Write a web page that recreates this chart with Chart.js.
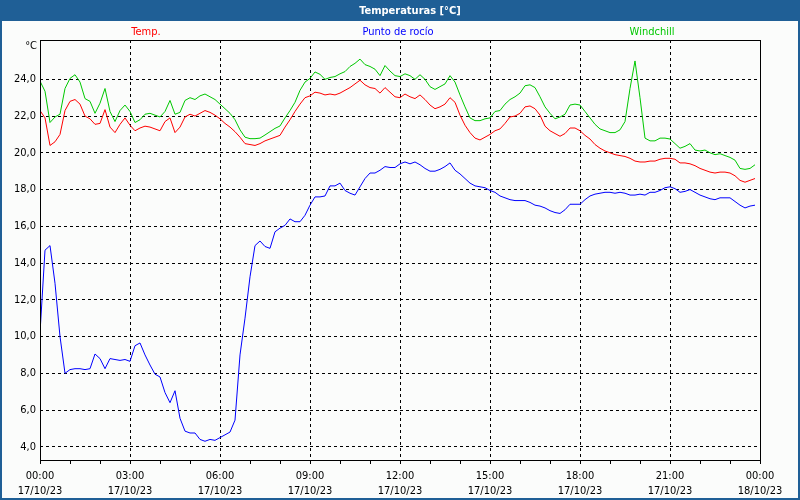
<!DOCTYPE html>
<html lang="es">
<head>
<meta charset="utf-8">
<title>Temperaturas</title>
<script src="https://cdn.jsdelivr.net/npm/chart.js@4/dist/chart.umd.min.js"></script>
<style>
    html, body { margin: 0; padding: 0; background: #fbfcfb; }
    #contenedor { width: 800px; height: 500px; }
</style>
</head>
<body>
<div id="contenedor"><canvas id="graficoTemp" width="800" height="500"></canvas></div>
<script>
// Lecturas cada 10 minutos, del 17/10/23 00:00 al 23:50
const minutosEntreLecturas = 10;

const temp = [
    22.3, 21.9, 20.4, 20.6, 21.0, 22.3, 22.8, 22.9, 22.65, 22.0, 21.85, 21.55, 21.6, 22.35, 21.4, 21.1, 21.55, 21.9,
    21.5, 21.2, 21.35, 21.45, 21.4, 21.3, 21.2, 21.7, 21.9, 21.1, 21.4, 21.95, 22.1, 22.0, 22.15, 22.3, 22.2, 22.05,
    21.85, 21.6, 21.4, 21.15, 20.85, 20.5, 20.45, 20.4, 20.5, 20.65, 20.75, 20.85, 20.95, 21.4, 21.8, 22.25, 22.65, 23.0,
    23.1, 23.3, 23.25, 23.15, 23.2, 23.15, 23.25, 23.4, 23.55, 23.75, 23.95, 23.7, 23.55, 23.5, 23.25, 23.55, 23.3, 23.05,
    23.0, 23.2, 23.05, 22.95, 23.15, 22.9, 22.6, 22.4, 22.5, 22.65, 23.0, 22.75, 22.05, 21.5, 21.1, 20.8, 20.7, 20.85,
    21.0, 21.2, 21.3, 21.6, 21.95, 22.0, 22.15, 22.5, 22.55, 22.4, 22.05, 21.45, 21.2, 21.05, 20.9, 21.05, 21.35, 21.35,
    21.2, 20.95, 20.75, 20.45, 20.25, 20.1, 20.0, 19.9, 19.85, 19.8, 19.7, 19.55, 19.5, 19.5, 19.55, 19.55, 19.65, 19.7,
    19.7, 19.65, 19.45, 19.45, 19.4, 19.3, 19.15, 19.05, 18.95, 18.9, 18.95, 18.95, 18.9, 18.75, 18.5, 18.4, 18.5, 18.6
];

const puntoRocio = [
    10.2, 14.7, 14.95, 12.9, 10.0, 8.0, 8.2, 8.25, 8.25, 8.2, 8.25, 9.05, 8.8, 8.25, 8.8, 8.75, 8.7, 8.75,
    8.65, 9.5, 9.65, 9.0, 8.45, 7.95, 7.8, 6.95, 6.4, 7.05, 5.55, 4.85, 4.75, 4.75, 4.4, 4.3, 4.4, 4.35,
    4.5, 4.65, 4.8, 5.45, 9.0, 11.0, 13.25, 14.95, 15.2, 14.9, 14.8, 15.7, 15.9, 16.05, 16.4, 16.25, 16.25, 16.6,
    17.15, 17.6, 17.6, 17.65, 18.2, 18.2, 18.35, 17.95, 17.8, 17.7, 18.15, 18.6, 18.9, 18.9, 19.05, 19.25, 19.2, 19.2,
    19.4, 19.5, 19.4, 19.5, 19.35, 19.15, 19.0, 19.0, 19.1, 19.25, 19.45, 19.05, 18.85, 18.6, 18.35, 18.2, 18.15, 18.1,
    17.95, 17.85, 17.65, 17.55, 17.45, 17.4, 17.4, 17.4, 17.3, 17.15, 17.1, 17.0, 16.85, 16.75, 16.7, 16.9, 17.2, 17.2,
    17.2, 17.45, 17.65, 17.75, 17.8, 17.85, 17.85, 17.8, 17.85, 17.8, 17.7, 17.7, 17.75, 17.7, 17.85, 17.85, 17.95, 18.1,
    18.15, 18.05, 17.85, 17.9, 18.0, 17.85, 17.7, 17.6, 17.5, 17.45, 17.55, 17.55, 17.55, 17.35, 17.15, 17.0, 17.1, 17.15
];

const windchill = [
    23.9, 23.35, 21.65, 21.95, 22.1, 23.5, 24.05, 24.25, 23.85, 22.95, 22.8, 22.15, 22.7, 23.5, 22.25, 21.7, 22.3, 22.6,
    22.25, 21.65, 21.8, 22.1, 22.15, 22.05, 21.95, 22.25, 22.85, 22.1, 22.2, 22.85, 23.0, 22.9, 23.1, 23.2, 23.05, 22.9,
    22.65, 22.4, 22.15, 21.8, 21.25, 20.85, 20.77, 20.77, 20.8, 20.97, 21.15, 21.33, 21.46, 21.9, 22.3, 22.75, 23.4, 23.85,
    24.05, 24.4, 24.27, 24.0, 24.1, 24.15, 24.3, 24.42, 24.7, 24.87, 25.1, 24.8, 24.7, 24.55, 24.2, 24.75, 24.45, 24.2,
    24.15, 24.3, 24.2, 24.0, 24.25, 24.0, 23.6, 23.45, 23.6, 23.75, 24.2, 23.85, 23.15, 22.5, 21.9, 21.75, 21.75, 21.85,
    21.9, 22.25, 22.3, 22.65, 22.9, 23.05, 23.25, 23.65, 23.7, 23.55, 23.05, 22.5, 22.15, 21.85, 21.95, 22.1, 22.6, 22.65,
    22.6, 22.25, 21.9, 21.55, 21.3, 21.2, 21.1, 21.1, 21.25, 21.7, 23.5, 25.0, 23.0, 20.8, 20.65, 20.65, 20.8, 20.8,
    20.75, 20.5, 20.25, 20.35, 20.5, 20.15, 20.1, 20.15, 20.0, 19.9, 19.95, 19.85, 19.75, 19.6, 19.15, 19.1, 19.15, 19.35
];

// Marcas de los ejes
const marcasY = [4, 6, 8, 10, 12, 14, 16, 18, 20, 22, 24];
const marcasHora = [0, 1, 2, 3, 4, 5, 6, 7, 8, 9, 10, 11, 12, 13, 14, 15, 16, 17, 18, 19, 20, 21, 22, 23, 24];
const horasEtiquetadas = [0, 3, 6, 9, 12, 15, 18, 21, 24];
const etiquetasHora = ['00:00', '03:00', '06:00', '09:00', '12:00', '15:00', '18:00', '21:00', '00:00'];
const etiquetasFecha = ['17/10/23', '17/10/23', '17/10/23', '17/10/23', '17/10/23', '17/10/23', '17/10/23', '17/10/23', '18/10/23'];

const FUENTE = "Tahoma, 'DejaVu Sans Condensed', 'Liberation Sans', sans-serif";
const AZUL_MARCO = '#1f5f96';
const VERDE = '#00c800';

function aPuntos(valores) {
    return valores.map((v, i) => ({ x: i * minutosEntreLecturas / 60, y: v }));
}

// Marco de la ventana, titulo, leyenda en texto de color y unidad del eje
const marcoVentana = {
    id: 'marcoVentana',
    beforeDraw(chart) {
        const ctx = chart.ctx;
        ctx.save();
        ctx.fillStyle = '#fbfcfb';
        ctx.fillRect(0, 0, chart.width, chart.height);
        ctx.fillStyle = AZUL_MARCO;
        ctx.fillRect(0, 0, chart.width, 21);
        ctx.fillStyle = '#ffffff';
        ctx.font = `bold 11px ${FUENTE}`;
        ctx.textAlign = 'center';
        ctx.textBaseline = 'middle';
        ctx.fillText('Temperaturas [°C]', 410, 11);
        ctx.restore();
    },
    afterDraw(chart) {
        const ctx = chart.ctx;
        const area = chart.chartArea;
        ctx.save();
        // borde del area de trazado
        ctx.strokeStyle = '#000';
        ctx.lineWidth = 1;
        ctx.strokeRect(Math.round(area.left) + 0.5, Math.round(area.top) + 0.5,
            Math.round(area.right - area.left), Math.round(area.bottom - area.top));
        // borde de la ventana
        ctx.strokeStyle = AZUL_MARCO;
        ctx.lineWidth = 2;
        ctx.strokeRect(1, 1, chart.width - 2, chart.height - 2);

        ctx.font = `11px ${FUENTE}`;
        ctx.textBaseline = 'middle';
        ctx.textAlign = 'center';
        ctx.fillStyle = '#ff0000';
        ctx.fillText('Temp.', 146, 32);
        ctx.fillStyle = '#0000ff';
        ctx.fillText('Punto de rocío', 398, 32);
        ctx.fillStyle = VERDE;
        ctx.fillText('Windchill', 652, 32);

        ctx.fillStyle = '#000';
        ctx.textAlign = 'right';
        ctx.fillText('°C', 37, 46);
        ctx.restore();
    }
};

document.addEventListener('DOMContentLoaded', function() {
    Chart.defaults.font.family = FUENTE;
    Chart.defaults.font.size = 11;
    Chart.defaults.color = '#000';

    const serie = (nombre, valores, color) => ({
        label: nombre,
        data: aPuntos(valores),
        borderColor: color,
        backgroundColor: color,
        borderWidth: 1,
        pointRadius: 0,
        tension: 0,
        fill: false
    });

    const ctx = document.getElementById('graficoTemp').getContext('2d');
    new Chart(ctx, {
        type: 'line',
        data: {
            datasets: [
                serie('Temp.', temp, '#ff0000'),
                serie('Punto de rocío', puntoRocio, '#0000ff'),
                serie('Windchill', windchill, VERDE)
            ]
        },
        options: {
            responsive: false,
            animation: false,
            devicePixelRatio: 1,
            layout: { padding: { top: 40, right: 40, left: 0, bottom: 0 } },
            plugins: {
                legend: { display: false },
                tooltip: { enabled: false }
            },
            scales: {
                x: {
                    type: 'linear',
                    min: 0,
                    max: 24,
                    afterBuildTicks: (escala) => {
                        escala.ticks = marcasHora.map(h => ({ value: h }));
                    },
                    afterFit: (escala) => {
                        escala.height = 40;
                        escala.paddingLeft = 0;
                        escala.paddingRight = 0;
                    },
                    ticks: {
                        autoSkip: false,
                        maxRotation: 0,
                        padding: 5,
                        color: '#000',
                        font: { size: 11, lineHeight: 15 / 11 },
                        callback: function(valor) {
                            const i = horasEtiquetadas.indexOf(valor);
                            return i >= 0 ? [etiquetasHora[i], etiquetasFecha[i]] : '';
                        }
                    },
                    grid: {
                        color: (c) => {
                            const v = c.tick ? c.tick.value : -1;
                            return (v % 3 === 0 && v > 0 && v < 24) ? '#000' : 'rgba(0,0,0,0)';
                        },
                        lineWidth: 1,
                        drawTicks: true,
                        tickLength: 4,
                        tickColor: '#000',
                        tickWidth: 1
                    },
                    border: { display: false, dash: [3, 3] }
                },
                y: {
                    min: 3.28,
                    max: 26.14,
                    afterBuildTicks: (escala) => {
                        escala.ticks = marcasY.map(v => ({ value: v }));
                    },
                    afterFit: (escala) => { escala.width = 40; },
                    ticks: {
                        padding: 4,
                        color: '#000',
                        callback: (v) => v.toFixed(1).replace('.', ',')
                    },
                    grid: {
                        color: '#000',
                        lineWidth: 1,
                        drawTicks: false
                    },
                    border: { display: false, dash: [3, 3] }
                }
            }
        },
        plugins: [marcoVentana]
    });
});
</script>
</body>
</html>
